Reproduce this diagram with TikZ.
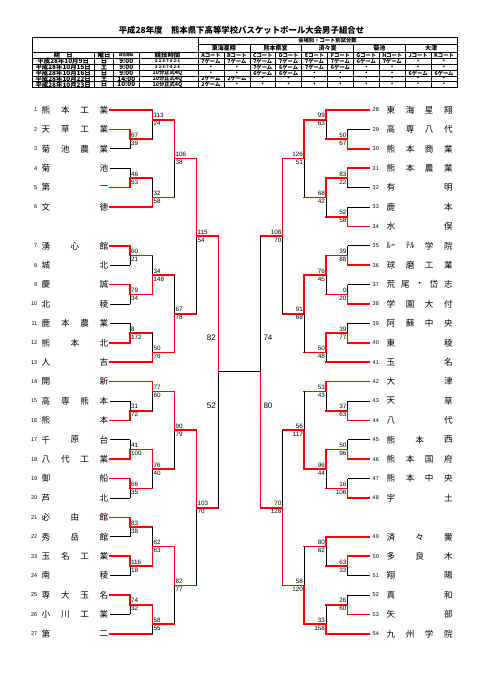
\documentclass[tikz,border=0pt]{standalone}
\usepackage{fontspec}
\setmainfont{Liberation Sans}
\newfontfamily\jp{Noto Sans CJK JP}
\usetikzlibrary{positioning}

\tikzset{
  winline/.style={draw=red, line width=1.6pt, line cap=rect},
  loseline/.style={draw=black, line width=0.9pt},
  score/.style={font=\fontsize{6.3}{7}\selectfont, inner xsep=0.8pt, inner ysep=1.6pt},
  semiscore/.style={font=\fontsize{8}{9}\selectfont, inner sep=0pt},
  tnum/.style={font=\fontsize{5.5}{6}\selectfont, inner sep=0pt},
  tchar/.style={font=\jp\fontsize{8.6}{9}\selectfont, inner sep=0pt},
  cell/.style={font=\jp\bfseries\fontsize{5.3}{6}\selectfont, inner sep=0pt},
  bigcell/.style={cell, font=\jp\bfseries\fontsize{6.4}{7}\selectfont},
  grid/.style={line width=0.5pt}
}

% one game: side, column, next column, top, bottom, out (half rows), winner t/b, scores
\newcommand{\match}[9]{%
  \if t#7\def\tsty{winline}\def\bsty{loseline}\else\def\tsty{loseline}\def\bsty{winline}\fi
  \draw[\tsty] (#2,{sy(#4)}) -- (#2,{sy(#6)});
  \draw[\bsty] (#2,{sy(#6)}) -- (#2,{sy(#5)});
  \draw[winline] (#2,{sy(#6)}) -- (#3,{sy(#6)});
  \if L#1
    \node[score, anchor=south west] (#1#6a) at (#2,{sy(#6)}) {#8};
    \node[score, anchor=north west] (#1#6b) at (#2,{sy(#6)}) {#9};
  \else
    \node[score, anchor=south east] (#1#6a) at (#2,{sy(#6)}) {#8};
    \node[score, anchor=north east] (#1#6b) at (#2,{sy(#6)}) {#9};
  \fi
}

\begin{document}
\begin{tikzpicture}[x=1pt, y=-1pt,
    declare function={sy(\s)=110+9.7*\s; ty(\i)=58.4+5.82*\i; cx(\k)=198+25.9*\k;}]
  \path[fill=white] (0,0) rectangle (481,680);

  \node[font=\jp\bfseries\fontsize{8.4}{9}\selectfont] (title) at (241.5,30.7)
    {平成28年度　熊本県下高等学校バスケットボール大会男子組合せ};

  % table
  \foreach \yy in {37.3,52,58.4,64.22,70.04,75.86,81.68,87.5}
    \draw[grid] (32,\yy) -- (457,\yy);
  \draw[grid] (198,44.5) -- (457,44.5);
  \foreach \x in {32,198,457}
    \draw[grid] (\x,37.3) -- (\x,87.5);
  \foreach \x in {94.5,113.5,139}
    \draw[grid] (\x,52) -- (\x,87.5);
  \foreach \kk in {1,3,5,7,9}
    \draw[grid] ({cx(\kk)},52) -- ({cx(\kk)},87.5);
  \foreach \kk in {2,4,6,8}
    \draw[grid] ({cx(\kk)},44.5) -- ({cx(\kk)},87.5);

  \node[cell] (venuehead) at ({cx(5)},40.9) {会場別・コート別試合数};
  \foreach \vn [count=\kk] in {東海星翔,熊本県営,済々黌,菊池,大津}
    \node[cell, font=\jp\bfseries\fontsize{6}{7}\selectfont] (venue\kk) at ({cx(2*\kk-1)},48.2) {\vn};
  \node[bigcell] (hdate) at (63.2,55.2) {期　日};
  \node[bigcell] (hdow) at (104,55.2) {曜日};
  \node[cell, font=\jp\bfseries\fontsize{3.6}{4}\selectfont] (hstart) at (126.3,55.2) {試合開始};
  \node[bigcell] (hfmt) at (167.5,55.2) {競技時間};
  \foreach \cc [count=\kk] in {A,B,C,D,E,F,G,H,J,K}
    \node[cell] (court\kk) at ({cx(\kk-0.5)},55.2) {\cc コート};

  \foreach \rw/\gday/\wday/\gstart/\gfmt/\gl in {
    1/{平成28年10月9日}/日/9:00/{\fontsize{3.8}{4}\selectfont 8-2-8-7-8-2-8}/{7ゲーム,7ゲーム,7ゲーム,7ゲーム,7ゲーム,7ゲーム,6ゲーム,7ゲーム,•,•},
    2/{平成28年10月15日}/土/9:00/{\fontsize{3.8}{4}\selectfont 8-2-8-7-8-2-8}/{•,•,7ゲーム,6ゲーム,7ゲーム,6ゲーム,•,•,•,•},
    3/{平成28年10月16日}/日/9:00/{10分正式4Q}/{•,•,6ゲーム,6ゲーム,•,•,•,•,6ゲーム,6ゲーム},
    4/{平成28年10月22日}/土/14:00/{10分正式4Q}/{2ゲーム,2ゲーム,•,•,•,•,•,•,•,•},
    5/{平成28年10月23日}/日/10:00/{10分正式4Q}/{2ゲーム,•,•,•,•,•,•,•,•,•}}{
    \node[bigcell] (date\rw) at (63.2,{ty(\rw-0.5)}) {\gday};
    \node[bigcell] (dow\rw) at (104,{ty(\rw-0.5)}) {\wday};
    \node[bigcell] (start\rw) at (126.3,{ty(\rw-0.5)}) {\gstart};
    \node[cell] (fmt\rw) at (167.5,{ty(\rw-0.5)}) {\gfmt};
    \foreach \cc [count=\kk] in \gl
      \node[cell] (g\rw-\kk) at ({cx(\kk-0.5)},{ty(\rw-0.5)}) {\cc};
  }

  % left teams: number / row / line end / style / name
  \foreach \tn/\sl/\le/\ls/\nm in {
    1/0/152.5/winline/{熊,本,工,業}, 2/1/130/winline/{天,草,工,業},
    3/2/130/loseline/{菊,池,農,業}, 4/3/130/loseline/{菊,池},
    5/4/130/winline/{第,一}, 6/5/152.5/winline/{文,徳},
    7/7/130/winline/{湧,心,館}, 8/8/130/loseline/{城,北},
    9/9/130/winline/{慶,誠}, 10/10/130/loseline/{北,稜},
    11/11/130/loseline/{鹿,本,農,業}, 12/12/130/winline/{熊,本,北},
    13/13/152.5/winline/{人,吉}, 14/14/152.5/winline/{開,新},
    15/15/130/loseline/{高,専,熊,本}, 16/16/130/winline/{熊,本},
    17/17/130/loseline/{千,原,台}, 18/18/130/winline/{八,代,工,業},
    19/19/130/winline/{御,船}, 20/20/130/loseline/{芦,北},
    21/21/130/winline/{必,由,館}, 22/22/130/loseline/{秀,岳,館},
    23/23/130/winline/{玉,名,工,業}, 24/24/130/loseline/{南,稜},
    25/25/130/winline/{専,大,玉,名}, 26/26/130/loseline/{小,川,工,業},
    27/27/152.5/winline/{第,二}}{
    \draw[\ls] (110,{sy(2*\sl)}) -- (\le,{sy(2*\sl)});
    \node[tnum, anchor=east] (n\tn) at (37.5,{sy(2*\sl)}) {\tn};
    \foreach \cc [count=\kk] in \nm {\xdef\nc{\kk}}
    \foreach \cc [count=\kk] in \nm
      \node[tchar] (t\tn-\kk) at ({46+(\kk-1)*58/(\nc-1)},{sy(2*\sl)}) {\cc};
  }

  % right teams
  \foreach \tn/\sl/\le/\ls/\nm in {
    28/0/326/winline/{東,海,星,翔}, 29/1/347.5/loseline/{高,専,八,代},
    30/2/347.5/winline/{熊,本,商,業}, 31/3/347.5/winline/{熊,本,農,業},
    32/4/347.5/loseline/{有,明}, 33/5/347.5/loseline/{鹿,本},
    34/6/347.5/winline/{水,俣}, 35/7/347.5/loseline/{ﾙｰ,ﾃﾙ,学,院},
    36/8/347.5/winline/{球,磨,工,業}, 37/9/347.5/loseline/{荒,尾,・,岱,志},
    38/10/347.5/winline/{学,園,大,付}, 39/11/347.5/loseline/{阿,蘇,中,央},
    40/12/347.5/winline/{東,稜}, 41/13/326/winline/{玉,名},
    42/14/326/winline/{大,津}, 43/15/347.5/loseline/{天,草},
    44/16/347.5/winline/{八,代}, 45/17/347.5/loseline/{熊,本,西},
    46/18/347.5/winline/{熊,本,国,府}, 47/19/347.5/loseline/{熊,本,中,央},
    48/20/347.5/winline/{宇,土}, 49/22/326/winline/{済,々,黌},
    50/23/347.5/winline/{多,良,木}, 51/24/347.5/loseline/{翔,陽},
    52/25/347.5/loseline/{真,和}, 53/26/347.5/winline/{矢,部},
    54/27/326/winline/{九,州,学,院}}{
    \draw[\ls] (369.5,{sy(2*\sl)}) -- (\le,{sy(2*\sl)});
    \node[tnum, anchor=west] (n\tn) at (372.5,{sy(2*\sl)}) {\tn};
    \foreach \cc [count=\kk] in \nm {\xdef\nc{\kk}}
    \foreach \cc [count=\kk] in \nm
      \node[tchar] (t\tn-\kk) at ({391+(\kk-1)*57.3/(\nc-1)},{sy(2*\sl)}) {\cc};
  }

  % left half
  \match{L}{130}{152.5}{2}{4}{3}{t}{67}{39}
  \match{L}{152.5}{174.5}{0}{3}{1}{t}{113}{24}
  \match{L}{130}{152.5}{6}{8}{7}{b}{46}{53}
  \match{L}{152.5}{174.5}{7}{10}{9}{b}{32}{58}
  \match{L}{174.5}{196.5}{1}{9}{5}{t}{106}{38}
  \match{L}{130}{152.5}{14}{16}{15}{t}{60}{21}
  \match{L}{130}{152.5}{18}{20}{19}{t}{79}{34}
  \match{L}{152.5}{174.5}{15}{19}{17}{b}{34}{148}
  \match{L}{130}{152.5}{22}{24}{23}{b}{8}{172}
  \match{L}{152.5}{174.5}{23}{26}{25}{b}{50}{76}
  \match{L}{174.5}{196.5}{17}{25}{21}{b}{67}{78}
  \match{L}{196.5}{218.5}{5}{21}{13}{t}{115}{54}
  \match{L}{130}{152.5}{30}{32}{31}{b}{31}{72}
  \match{L}{152.5}{174.5}{28}{31}{29}{t}{77}{60}
  \match{L}{130}{152.5}{34}{36}{35}{b}{41}{100}
  \match{L}{130}{152.5}{38}{40}{39}{t}{66}{35}
  \match{L}{152.5}{174.5}{35}{39}{37}{t}{76}{40}
  \match{L}{174.5}{196.5}{29}{37}{33}{t}{90}{79}
  \match{L}{130}{152.5}{42}{44}{43}{t}{83}{38}
  \match{L}{130}{152.5}{46}{48}{47}{t}{116}{18}
  \match{L}{152.5}{174.5}{43}{47}{45}{b}{62}{63}
  \match{L}{130}{152.5}{50}{52}{51}{t}{74}{32}
  \match{L}{152.5}{174.5}{51}{54}{53}{t}{58}{55}
  \match{L}{174.5}{196.5}{45}{53}{49}{t}{82}{77}
  \match{L}{196.5}{218.5}{33}{49}{41}{t}{103}{70}

  % right half
  \match{R}{347.5}{326}{2}{4}{3}{b}{50}{67}
  \match{R}{326}{304}{0}{3}{1}{t}{99}{63}
  \match{R}{347.5}{326}{6}{8}{7}{t}{83}{22}
  \match{R}{347.5}{326}{10}{12}{11}{b}{52}{58}
  \match{R}{326}{304}{7}{11}{9}{t}{68}{42}
  \match{R}{304}{282.5}{1}{9}{5}{t}{126}{51}
  \match{R}{347.5}{326}{14}{16}{15}{b}{39}{88}
  \match{R}{347.5}{326}{18}{20}{19}{b}{0}{20}
  \match{R}{326}{304}{15}{19}{17}{t}{76}{45}
  \match{R}{347.5}{326}{22}{24}{23}{b}{39}{77}
  \match{R}{326}{304}{23}{26}{25}{t}{50}{48}
  \match{R}{304}{282.5}{17}{25}{21}{t}{91}{68}
  \match{R}{282.5}{260.5}{5}{21}{13}{t}{108}{70}
  \match{R}{347.5}{326}{30}{32}{31}{b}{37}{63}
  \match{R}{326}{304}{28}{31}{29}{t}{53}{43}
  \match{R}{347.5}{326}{34}{36}{35}{b}{50}{96}
  \match{R}{347.5}{326}{38}{40}{39}{b}{16}{106}
  \match{R}{326}{304}{35}{39}{37}{t}{96}{44}
  \match{R}{304}{282.5}{29}{37}{33}{b}{56}{117}
  \match{R}{347.5}{326}{46}{48}{47}{t}{63}{33}
  \match{R}{326}{304}{44}{47}{45}{t}{80}{62}
  \match{R}{347.5}{326}{50}{52}{51}{b}{26}{60}
  \match{R}{326}{304}{51}{54}{53}{b}{33}{158}
  \match{R}{304}{282.5}{45}{53}{49}{b}{58}{120}
  \match{R}{282.5}{260.5}{33}{49}{41}{b}{70}{128}

  % semifinals and final
  \draw[loseline] (218.5,{sy(27)}) -- (218.5,{sy(41)});
  \draw[winline] (218.5,{sy(13)}) -- (218.5,{sy(27)});
  \draw[loseline] (260.5,{sy(13)}) -- (260.5,{sy(27)});
  \draw[winline] (260.5,{sy(27)}) -- (260.5,{sy(41)});
  \draw[loseline] (218.5,{sy(27)}) -- (260.5,{sy(27)});
  \node[semiscore, anchor=east] (semiLa) at (216,337.7) {82};
  \node[semiscore, anchor=east] (semiLb) at (216,406) {52};
  \node[semiscore, anchor=west] (semiRa) at (263.3,337.7) {74};
  \node[semiscore, anchor=west] (semiRb) at (263.3,406) {80};
\end{tikzpicture}
\end{document}
